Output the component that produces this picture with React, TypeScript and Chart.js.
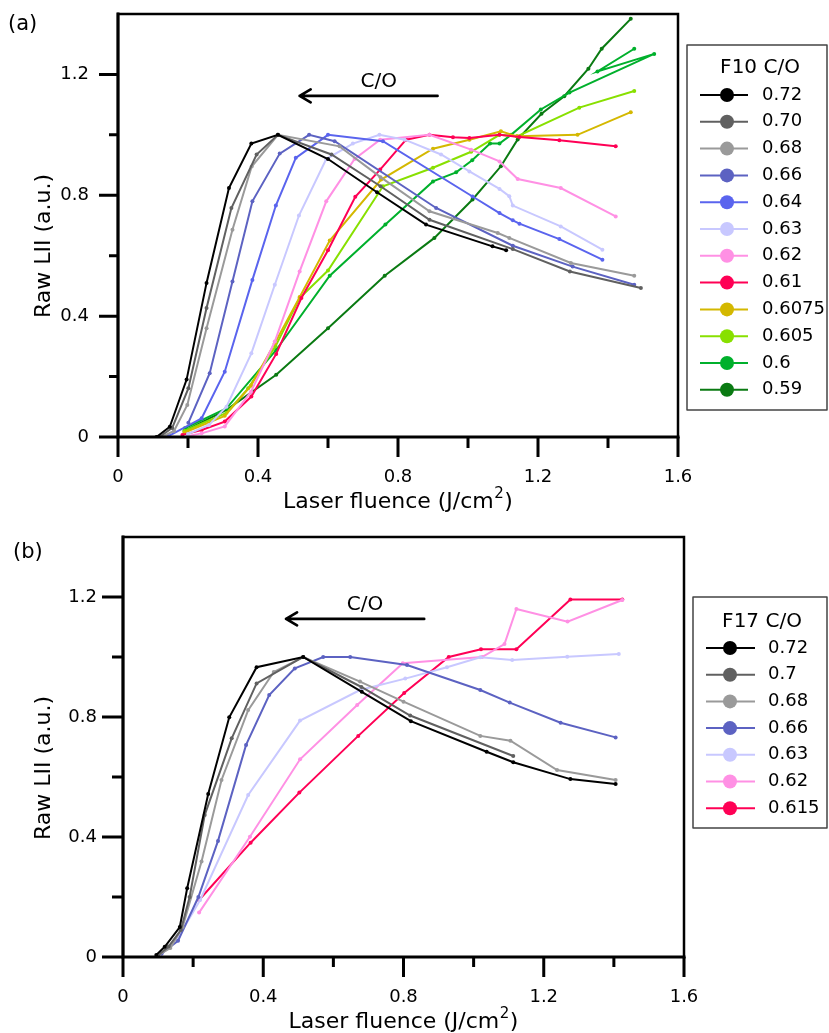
import React, { useEffect, useRef } from 'react';
import { Chart, registerables } from 'chart.js';
Chart.register(...registerables);

const FONT = '"DejaVu Sans", Verdana, sans-serif';

// ---------- tick labels ----------
const X_TICK_LABELS = ['0', '0.4', '0.8', '1.2', '1.6'];
const Y_TICK_LABELS = ['0', '0.4', '0.8', '1.2'];

// ---------- Panel (a): F10 ----------
const A_LABELS = ['0.72', '0.70', '0.68', '0.66', '0.64', '0.63', '0.62', '0.61', '0.6075', '0.605', '0.6', '0.59'];
const A_COLORS = ['#000000', '#606060', '#9a9a9a', '#5c62c2', '#5a64ee', '#c8c8ff', '#ff90e4', '#ff0055', '#d4b800', '#88e000', '#00b02c', '#0a7a12'];

const a072x = [0.110, 0.148, 0.196, 0.253, 0.317, 0.381, 0.457, 0.600, 0.740, 0.880, 1.070, 1.109];
const a072y = [0.0, 0.034, 0.19, 0.51, 0.824, 0.971, 1.0, 0.92, 0.81, 0.703, 0.631, 0.618];
const a070x = [0.118, 0.155, 0.201, 0.253, 0.324, 0.396, 0.457, 0.610, 0.750, 0.890, 1.128, 1.291, 1.494];
const a070y = [0.0, 0.03, 0.161, 0.427, 0.758, 0.935, 1.0, 0.935, 0.83, 0.719, 0.622, 0.548, 0.493];
const a068x = [0.125, 0.16, 0.198, 0.253, 0.327, 0.382, 0.457, 0.633, 0.75, 0.89, 1.085, 1.118, 1.294, 1.475];
const a068y = [0.0, 0.02, 0.106, 0.36, 0.686, 0.895, 1.0, 0.962, 0.86, 0.747, 0.675, 0.659, 0.576, 0.534];
const a066x = [0.201, 0.262, 0.327, 0.384, 0.462, 0.546, 0.619, 0.909, 1.128, 1.299, 1.475];
const a066y = [0.047, 0.211, 0.515, 0.78, 0.938, 1.0, 0.979, 0.758, 0.633, 0.564, 0.504];
const a064x = [0.144, 0.239, 0.305, 0.384, 0.451, 0.508, 0.600, 0.757, 1.013, 1.09, 1.128, 1.147, 1.261, 1.384];
const a064y = [0.003, 0.062, 0.216, 0.52, 0.766, 0.924, 1.0, 0.979, 0.796, 0.741, 0.717, 0.706, 0.655, 0.587];
const a063x = [0.20, 0.26, 0.31, 0.381, 0.448, 0.517, 0.595, 0.671, 0.747, 0.819, 0.923, 1.004, 1.09, 1.118, 1.128, 1.265, 1.384];
const a063y = [0.01, 0.04, 0.10, 0.277, 0.504, 0.733, 0.92, 0.971, 1.0, 0.984, 0.935, 0.879, 0.821, 0.797, 0.766, 0.697, 0.62];
const a062x = [0.20, 0.239, 0.305, 0.38, 0.448, 0.519, 0.595, 0.676, 0.749, 0.89, 1.009, 1.09, 1.142, 1.265, 1.422];
const a062y = [0.003, 0.012, 0.035, 0.15, 0.316, 0.548, 0.78, 0.92, 0.984, 1.0, 0.951, 0.912, 0.854, 0.824, 0.73];
const a061x = [0.184, 0.239, 0.305, 0.381, 0.452, 0.524, 0.600, 0.678, 0.749, 0.823, 0.89, 0.957, 1.004, 1.09, 1.147, 1.261, 1.422];
const a061y = [0.007, 0.023, 0.051, 0.134, 0.275, 0.46, 0.618, 0.795, 0.885, 0.984, 1.0, 0.992, 0.99, 1.0, 0.993, 0.982, 0.962];
const a06075x = [0.19, 0.305, 0.38, 0.448, 0.519, 0.605, 0.752, 0.9, 1.004, 1.094, 1.14, 1.313, 1.465];
const a06075y = [0.015, 0.07, 0.17, 0.31, 0.463, 0.65, 0.852, 0.954, 0.984, 1.012, 0.995, 1.0, 1.075];
const a0605x = [0.19, 0.31, 0.372, 0.45, 0.519, 0.6, 0.757, 0.9, 1.009, 1.09, 1.14, 1.318, 1.475];
const a0605y = [0.02, 0.08, 0.161, 0.30, 0.46, 0.551, 0.83, 0.891, 0.944, 1.0, 0.995, 1.09, 1.145];
const a060x = [0.191, 0.31, 0.452, 0.605, 0.764, 0.9, 0.966, 1.012, 1.063, 1.09, 1.123, 1.208, 1.29, 1.532, 1.37, 1.475];
const a060y = [0.029, 0.095, 0.288, 0.534, 0.703, 0.846, 0.876, 0.916, 0.971, 0.971, 1.0, 1.084, 1.14, 1.268, 1.21, 1.285];
const a059x = [0.19, 0.31, 0.452, 0.6, 0.762, 0.904, 1.013, 1.094, 1.142, 1.21, 1.275, 1.344, 1.382, 1.465];
const a059y = [0.02, 0.09, 0.206, 0.36, 0.534, 0.659, 0.786, 0.896, 0.985, 1.07, 1.128, 1.219, 1.285, 1.384];

const A_XS = [a072x, a070x, a068x, a066x, a064x, a063x, a062x, a061x, a06075x, a0605x, a060x, a059x];
const A_YS = [a072y, a070y, a068y, a066y, a064y, a063y, a062y, a061y, a06075y, a0605y, a060y, a059y];

// ---------- Panel (b): F17 ----------
const B_LABELS = ['0.72', '0.7', '0.68', '0.66', '0.63', '0.62', '0.615'];
const B_COLORS = ['#000000', '#606060', '#9a9a9a', '#5c62c2', '#c8c8ff', '#ff90e4', '#ff0055'];

const b072x = [0.095, 0.119, 0.162, 0.183, 0.243, 0.303, 0.381, 0.514, 0.681, 0.821, 1.037, 1.113, 1.276, 1.405];
const b072y = [0.007, 0.034, 0.10, 0.229, 0.543, 0.799, 0.966, 1.0, 0.884, 0.786, 0.684, 0.649, 0.593, 0.577];
const b070x = [0.10, 0.13, 0.165, 0.19, 0.233, 0.31, 0.381, 0.514, 0.68, 0.819, 1.113];
const b070y = [0.005, 0.035, 0.09, 0.2, 0.473, 0.729, 0.912, 1.0, 0.90, 0.805, 0.67];
const b068x = [0.10, 0.135, 0.17, 0.224, 0.281, 0.357, 0.43, 0.514, 0.676, 0.8, 1.019, 1.105, 1.238, 1.405];
const b068y = [0.005, 0.03, 0.1, 0.318, 0.59, 0.823, 0.95, 1.0, 0.918, 0.851, 0.737, 0.721, 0.623, 0.59];
const b066x = [0.11, 0.157, 0.215, 0.271, 0.351, 0.417, 0.49, 0.571, 0.648, 0.81, 1.019, 1.103, 1.248, 1.405];
const b066y = [0.012, 0.054, 0.2, 0.387, 0.707, 0.873, 0.962, 1.0, 1.0, 0.973, 0.89, 0.848, 0.781, 0.732];
const b063x = [0.11, 0.16, 0.22, 0.357, 0.505, 0.676, 0.805, 0.924, 1.019, 1.11, 1.267, 1.414];
const b063y = [0.01, 0.07, 0.19, 0.54, 0.788, 0.89, 0.928, 0.966, 0.999, 0.99, 1.001, 1.01];
const b062x = [0.217, 0.362, 0.505, 0.668, 0.798, 1.024, 1.088, 1.122, 1.268, 1.424];
const b062y = [0.148, 0.401, 0.659, 0.84, 0.979, 1.0, 1.043, 1.16, 1.118, 1.19];
const b0615x = [0.217, 0.364, 0.503, 0.671, 0.802, 0.929, 1.021, 1.122, 1.276, 1.424];
const b0615y = [0.19, 0.381, 0.548, 0.737, 0.88, 1.0, 1.026, 1.026, 1.192, 1.192];

const B_XS = [b072x, b070x, b068x, b066x, b063x, b062x, b0615x];
const B_YS = [b072y, b070y, b068y, b066y, b063y, b062y, b0615y];

// ---------- annotations (data units) ----------
const A_ARROW = [0.519, 0.913, 1.129]; // x tip, x tail, y
const A_ARROW_TEXT = [0.745, 1.177];
const B_ARROW = [0.465, 0.859, 1.127];
const B_ARROW_TEXT = [0.69, 1.173];

const X_TITLE = ['Laser fluence (J/cm', '2', ')'];
const Y_TITLE = 'Raw LII (a.u.)';

const makeDatasets = (labels: string[], colors: string[], xs: number[][], ys: number[][]) =>
  labels.map((lab, i) => ({
    label: lab,
    data: xs[i].map((x, j) => ({ x, y: ys[i][j] })),
    borderColor: colors[i],
    backgroundColor: colors[i],
    pointBackgroundColor: colors[i],
    borderWidth: 2,
    pointRadius: 2,
    pointHoverRadius: 2,
    pointBorderWidth: 0,
    showLine: true,
    tension: 0,
    fill: false,
  }));

const decorPlugin = {
  id: 'decor',
  afterDraw(chart: any, _args: any, o: any) {
    const { ctx, chartArea: ca } = chart;
    const xs = chart.scales.x;
    const ys = chart.scales.y;
    ctx.save();
    // box
    ctx.strokeStyle = '#000';
    ctx.lineWidth = 2.5;
    ctx.lineCap = 'square';
    ctx.beginPath();
    ctx.moveTo(ca.left, ca.bottom);
    ctx.lineTo(ca.left, ca.top);
    ctx.lineTo(ca.right, ca.top);
    ctx.lineTo(ca.right, ca.bottom);
    ctx.stroke();
    ctx.lineWidth = 3;
    ctx.beginPath();
    ctx.moveTo(ca.left, ca.bottom);
    ctx.lineTo(ca.right, ca.bottom);
    ctx.moveTo(ca.left, ca.bottom);
    ctx.lineTo(ca.left, ca.top);
    ctx.stroke();
    // ticks
    ctx.lineCap = 'butt';
    ctx.lineWidth = 3;
    ctx.beginPath();
    for (const t of xs.ticks) {
      const px = xs.getPixelForValue(t.value);
      const major = Math.round(t.value * 10) % 4 === 0;
      ctx.moveTo(px, ca.bottom);
      ctx.lineTo(px, ca.bottom + (major ? o.xMajor : o.xMinor));
    }
    for (const t of ys.ticks) {
      if (t.value > 1.25) continue;
      const py = ys.getPixelForValue(t.value);
      const major = Math.round(t.value * 10) % 4 === 0;
      ctx.moveTo(ca.left, py);
      ctx.lineTo(ca.left - (major ? o.yMajor : o.yMinor), py);
    }
    ctx.stroke();
    // arrow
    const ax1 = xs.getPixelForValue(o.arrow[0]);
    const ax2 = xs.getPixelForValue(o.arrow[1]);
    const ay = ys.getPixelForValue(o.arrow[2]);
    ctx.lineWidth = 2.7;
    ctx.lineCap = 'round';
    ctx.lineJoin = 'round';
    ctx.beginPath();
    ctx.moveTo(ax2, ay);
    ctx.lineTo(ax1, ay);
    ctx.moveTo(ax1 + 11, ay - 6.5);
    ctx.lineTo(ax1, ay);
    ctx.lineTo(ax1 + 11, ay + 6.5);
    ctx.stroke();
    ctx.fillStyle = '#000';
    ctx.font = `20px ${FONT}`;
    ctx.textAlign = 'center';
    ctx.textBaseline = 'middle';
    ctx.fillText('C/O', xs.getPixelForValue(o.arrowText[0]), ys.getPixelForValue(o.arrowText[1]));
    // panel label
    ctx.font = `21px ${FONT}`;
    ctx.textAlign = 'left';
    ctx.fillText(o.panel[0], o.panel[1], o.panel[2]);
    // axis titles
    const tf = `${o.titleSize}px ${FONT}`;
    const sf = `${Math.round(o.titleSize * 0.68)}px ${FONT}`;
    ctx.font = tf;
    const w1 = ctx.measureText(X_TITLE[0]).width;
    const w3 = ctx.measureText(X_TITLE[2]).width;
    ctx.font = sf;
    const w2 = ctx.measureText(X_TITLE[1]).width;
    const tw = w1 + w2 + w3 + 1;
    let tx = (ca.left + ca.right) / 2 - tw / 2;
    const ty = o.xTitleY;
    ctx.textAlign = 'left';
    ctx.textBaseline = 'middle';
    ctx.font = tf;
    ctx.fillText(X_TITLE[0], tx, ty);
    tx += w1 + 0.5;
    ctx.font = sf;
    ctx.fillText(X_TITLE[1], tx, ty - o.titleSize * 0.35);
    tx += w2 + 0.5;
    ctx.font = tf;
    ctx.fillText(X_TITLE[2], tx, ty);
    ctx.save();
    ctx.translate(o.yTitleX, o.yTitleY);
    ctx.rotate(-Math.PI / 2);
    ctx.textAlign = 'center';
    ctx.fillText(Y_TITLE, 0, 0);
    ctx.restore();
    // legend
    const L = o.legend;
    ctx.fillStyle = '#fff';
    ctx.fillRect(L.left, L.top, L.right - L.left, L.bottom - L.top);
    ctx.strokeStyle = '#444';
    ctx.lineWidth = 1.5;
    ctx.strokeRect(L.left, L.top, L.right - L.left, L.bottom - L.top);
    ctx.fillStyle = '#000';
    ctx.textAlign = 'center';
    ctx.textBaseline = 'middle';
    ctx.font = `20px ${FONT}`;
    ctx.fillText(L.title, L.titleX, L.titleY);
    ctx.font = `18px ${FONT}`;
    ctx.textAlign = 'left';
    chart.data.datasets.forEach((ds: any, i: number) => {
      const yy = L.firstY + i * L.step;
      ctx.strokeStyle = ds.borderColor;
      ctx.lineWidth = 2;
      ctx.lineCap = 'butt';
      ctx.beginPath();
      ctx.moveTo(L.lineX1, yy);
      ctx.lineTo(L.lineX2, yy);
      ctx.stroke();
      ctx.fillStyle = ds.borderColor;
      ctx.beginPath();
      ctx.arc(L.markX, yy, L.markR, 0, Math.PI * 2);
      ctx.fill();
      ctx.fillStyle = '#000';
      ctx.fillText(ds.label, L.textX, yy);
    });
    ctx.restore();
  },
};

function makeConfig(p: any) {
  const font = { family: FONT, size: 18 };
  return {
    type: 'scatter',
    data: { datasets: p.datasets },
    plugins: [decorPlugin],
    options: {
      animation: false,
      responsive: false,
      devicePixelRatio: 1,
      layout: { padding: { left: 0, top: p.padTop, right: p.padRight, bottom: 0 } },
      plugins: {
        legend: { display: false },
        tooltip: { enabled: false },
        decor: p.decor,
      },
      scales: {
        x: {
          type: 'linear',
          min: 0,
          max: 1.6,
          grid: { display: false, drawTicks: false },
          border: { display: false },
          ticks: {
            stepSize: 0.2,
            autoSkip: false,
            maxRotation: 0,
            padding: 30,
            color: '#000',
            font,
            callback: (v: number) => {
              const k = Math.round(v * 10);
              return k % 4 === 0 ? X_TICK_LABELS[k / 4] : '';
            },
          },
          title: { display: false },
          afterFit: (s: any) => {
            s.height = p.xHeight;
            s.paddingLeft = 0;
            s.paddingRight = 0;
            s.paddingTop = 0;
            s.paddingBottom = 0;
          },
        },
        y: {
          type: 'linear',
          min: 0,
          max: 1.4,
          grid: { display: false, drawTicks: false },
          border: { display: false },
          ticks: {
            stepSize: 0.2,
            autoSkip: false,
            padding: p.yTickPad,
            color: '#000',
            font,
            callback: (v: number) => {
              const k = Math.round(v * 10);
              return k % 4 === 0 && k <= 12 ? Y_TICK_LABELS[k / 4] : '';
            },
          },
          title: { display: false },
          afterFit: (s: any) => {
            s.width = p.yWidth;
            s.paddingTop = 0;
            s.paddingBottom = 0;
            s.paddingLeft = 0;
            s.paddingRight = 0;
          },
        },
      },
    },
  };
}

export default function App() {
  const refA = useRef<HTMLCanvasElement>(null);
  const refB = useRef<HTMLCanvasElement>(null);

  useEffect(() => {
    const cfgA = makeConfig({
      datasets: makeDatasets(A_LABELS, A_COLORS, A_XS, A_YS),
      padTop: 14,
      padRight: 151,
      yWidth: 118,
      xHeight: 83,
      yTickPad: 29,
      decor: {
        xMajor: 20, xMinor: 11, yMajor: 19, yMinor: 9,
        arrow: A_ARROW, arrowText: A_ARROW_TEXT,
        panel: ['(a)', 8, 25],
        titleSize: 22,
        xTitleY: 502,
        yTitleX: 44,
        yTitleY: 246,
        legend: {
          left: 687, top: 45, right: 827, bottom: 410,
          title: 'F10 C/O', titleX: 760, titleY: 68,
          firstY: 95, step: 26.8,
          lineX1: 700, lineX2: 748, markX: 727, markR: 7, textX: 762,
        },
      },
    });
    const cfgB = makeConfig({
      datasets: makeDatasets(B_LABELS, B_COLORS, B_XS, B_YS),
      padTop: 17,
      padRight: 145,
      yWidth: 123,
      xHeight: 76,
      yTickPad: 26,
      decor: {
        xMajor: 20, xMinor: 10, yMajor: 21, yMinor: 11,
        arrow: B_ARROW, arrowText: B_ARROW_TEXT,
        panel: ['(b)', 13, 33],
        titleSize: 22,
        xTitleY: 502,
        yTitleX: 44,
        yTitleY: 248,
        legend: {
          left: 693, top: 77, right: 827, bottom: 308,
          title: 'F17 C/O', titleX: 762, titleY: 102,
          firstY: 128, step: 26.7,
          lineX1: 706, lineX2: 755, markX: 730, markR: 7, textX: 768,
        },
      },
    });
    const chA = new Chart(refA.current as HTMLCanvasElement, cfgA as any);
    const chB = new Chart(refB.current as HTMLCanvasElement, cfgB as any);
    return () => { chA.destroy(); chB.destroy(); };
  }, []);

  return (
    <div style={{ position: 'absolute', left: 0, top: 0, width: 829, height: 1033, background: '#fff' }}>
      <canvas ref={refA} width={829} height={520} style={{ position: 'absolute', left: 0, top: 0, width: 829, height: 520 }} />
      <canvas ref={refB} width={829} height={513} style={{ position: 'absolute', left: 0, top: 520, width: 829, height: 513 }} />
    </div>
  );
}
